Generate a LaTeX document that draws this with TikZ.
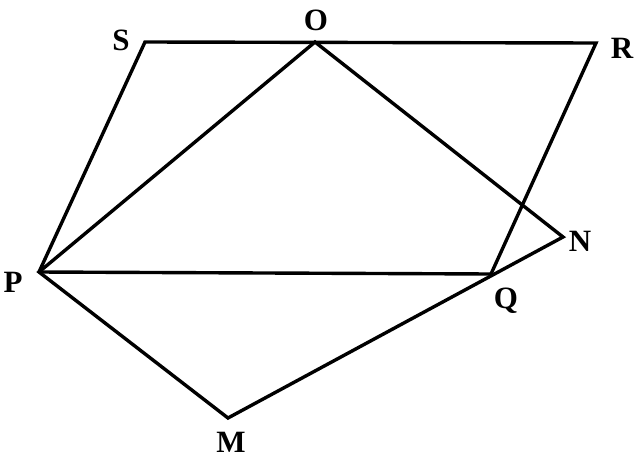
\documentclass[tikz,border=0pt]{standalone}
\usepackage{fontspec}
\setmainfont{Liberation Serif}
\begin{document}
\begin{tikzpicture}[x=1pt,y=-1pt,
  edge/.style={line width=3.4pt,line join=miter,line cap=butt},
  lbl/.style={font=\fontsize{31}{31}\selectfont\bfseries,inner sep=0pt}]
\useasboundingbox (0,0) rectangle (644,463);
\coordinate (S) at (145,42);
\coordinate (O) at (315,42);
\coordinate (R) at (596,43);
\coordinate (P) at (39,272);
\coordinate (Q) at (491,274);
\coordinate (N) at (563,237);
\coordinate (M) at (228,418);
\draw[edge] (P) -- (S) -- (R) -- (Q);
\draw[edge] (P) -- (O) -- (N) -- (M) -- cycle;
\draw[edge] (P) -- (Q);
\node[lbl] (lS) at (121,40) {S};
\node[lbl] (lO) at (316,20) {O};
\node[lbl] (lR) at (622,48) {R};
\node[lbl] (lP) at (13,282) {P};
\node[lbl] (lQ) at (506,301) {Q};
\node[lbl] (lN) at (580,241) {N};
\node[lbl] (lM) at (231,442) {M};
\end{tikzpicture}
\end{document}
